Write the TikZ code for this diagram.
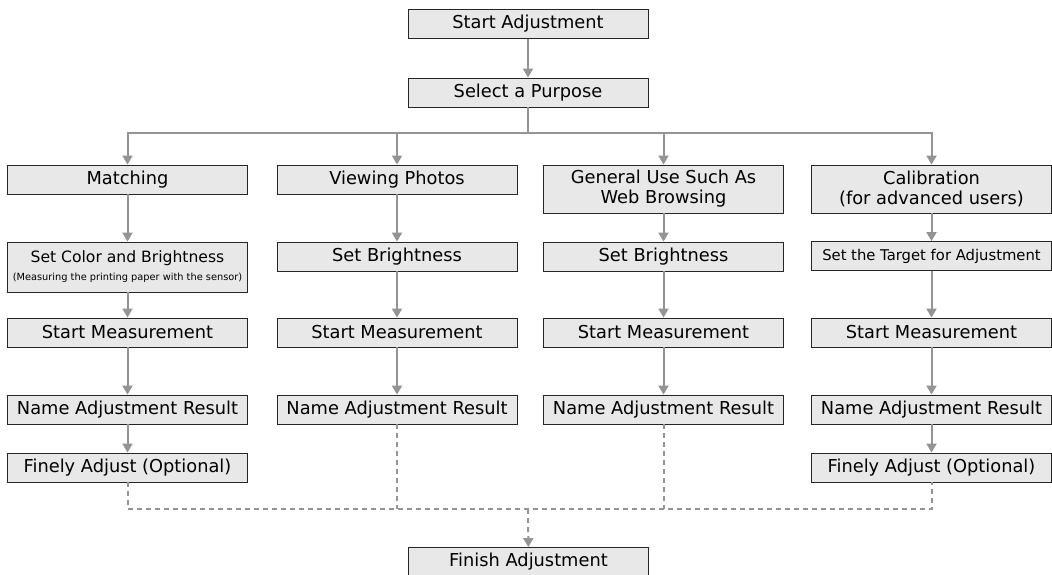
\documentclass[tikz,border=0pt]{standalone}
\usepackage{fontspec}
\setmainfont{DejaVu Sans}
\usetikzlibrary{arrows.meta}

\begin{document}
\begin{tikzpicture}[x=1pt,y=-1pt,>={Triangle[width=10pt,length=9pt]},
                    line join=miter]
  \tikzstyle{proc}=[draw=black!85,fill=black!9,line width=0.9pt,minimum width=240pt,
                    minimum height=29pt,inner sep=0pt,font=\fontsize{17.8}{20}\selectfont]
  \tikzstyle{flow}=[draw=black!42,line width=2pt]
  \tikzstyle{opt}=[flow,dash pattern=on 5pt off 4pt]

  \useasboundingbox (0,0) rectangle (1052,574);

  % top of the chart
  \node[proc] (start)   at (528,24)   {Start Adjustment};
  \node[proc] (purpose) at (528,92.5) {Select a Purpose};

  % the four purposes
  \node[proc] (match) at (127.5,179.5) {Matching};
  \node[proc] (photo) at (397,179.5)   {Viewing Photos};
  \node[proc,minimum height=48pt,align=center] (web)   at (663.5,189) {General Use Such As\\Web Browsing};
  \node[proc,minimum height=48pt,align=center] (calib) at (931.5,189) {Calibration\\(for advanced users)};

  \node[proc,minimum height=50pt,align=center] (color) at (127.5,267)
       {{\fontsize{15.6}{17}\selectfont Set Color and Brightness}\\[-2pt]
        {\fontsize{9.8}{11}\selectfont (Measuring the printing paper with the sensor)}};
  \node[proc] (bright2) at (397,256.5)   {Set Brightness};
  \node[proc] (bright3) at (663.5,256.5) {Set Brightness};
  \node[proc,font=\fontsize{14.8}{17}\selectfont] (target) at (931.5,256) {Set the Target for Adjustment};

  \foreach \c/\x in {1/127.5,2/397,3/663.5,4/931.5} {
    \node[proc] (meas\c) at (\x,332.5) {Start Measurement};
    \node[proc] (name\c) at (\x,409.5) {Name Adjustment Result};
  }

  \node[proc] (fine1)  at (127.5,467.5) {Finely Adjust (Optional)};
  \node[proc] (fine4)  at (931.5,467.5) {Finely Adjust (Optional)};
  \node[proc] (finish) at (528.5,562)   {Finish Adjustment};

  \coordinate (bar)  at (528,133);
  \coordinate (join) at (528,509);

  % solid connectors
  \draw[flow,->] (start) -- (purpose);
  \draw[flow] (purpose) -- (bar);
  \draw[flow,->] (bar) -| (match);
  \draw[flow,->] (bar) -| (photo);
  \draw[flow,->] (bar) -| (web);
  \draw[flow,->] (bar) -| (calib);

  \draw[flow,->] (match) -- (color);
  \draw[flow,->] (color) -- (meas1);
  \draw[flow,->] (photo) -- (bright2);
  \draw[flow,->] (bright2) -- (meas2);
  \draw[flow,->] (web) -- (bright3);
  \draw[flow,->] (bright3) -- (meas3);
  \draw[flow,->] (calib) -- (target);
  \draw[flow,->] (target) -- (meas4);
  \foreach \c in {1,2,3,4}
    \draw[flow,->] (meas\c) -- (name\c);
  \draw[flow,->] (name1) -- (fine1);
  \draw[flow,->] (name4) -- (fine4);

  % dashed connectors
  \draw[opt] (fine1) |- (join) -| (fine4);
  \draw[opt] (name2) -- (name2 |- join);
  \draw[opt] (name3) -- (name3 |- join);
  \draw[opt,->] (join) -- (finish);
\end{tikzpicture}
\end{document}
